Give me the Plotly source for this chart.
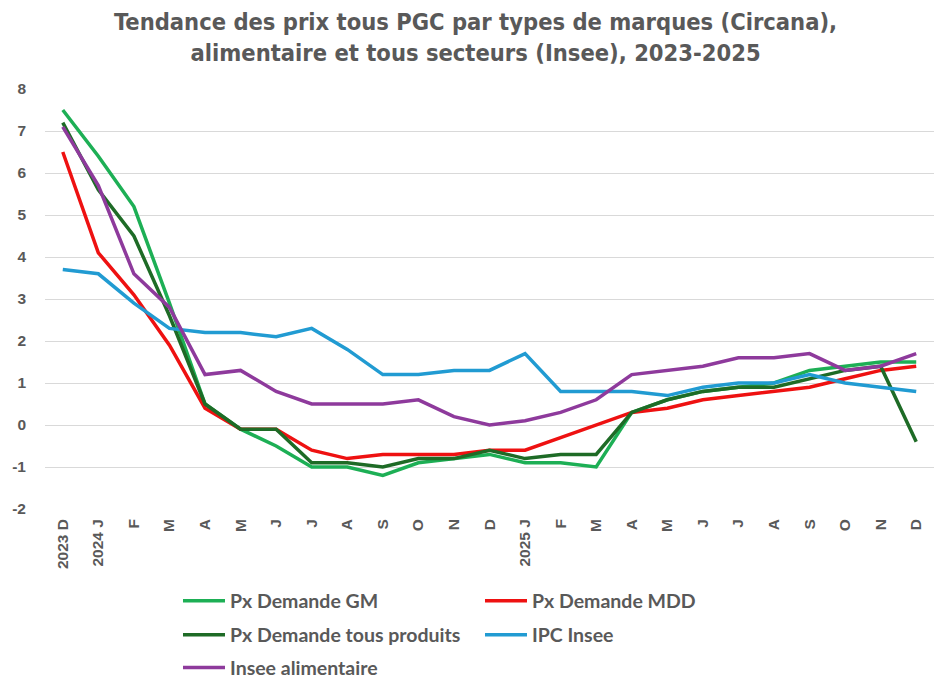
import plotly.graph_objects as go

tick_labels = ["2023 D", "2024 J", "F", "M", "A", "M", "J", "J", "A", "S", "O", "N", "D",
               "2025 J", "F", "M", "A", "M", "J", "J", "A", "S", "O", "N", "D"]
y_ticks = [-2, -1, 0, 1, 2, 3, 4, 5, 6, 7, 8]

px_gm = [7.5, 6.4, 5.2, 2.9, 0.5, -0.1, -0.5, -1.0, -1.0, -1.2, -0.9, -0.8, -0.7,
         -0.9, -0.9, -1.0, 0.3, 0.6, 0.8, 0.9, 1.0, 1.3, 1.4, 1.5, 1.5]
px_mdd = [6.5, 4.1, 3.1, 1.9, 0.4, -0.1, -0.1, -0.6, -0.8, -0.7, -0.7, -0.7, -0.6,
          -0.6, -0.3, 0.0, 0.3, 0.4, 0.6, 0.7, 0.8, 0.9, 1.1, 1.3, 1.4]
px_tous = [7.2, 5.6, 4.5, 2.6, 0.5, -0.1, -0.1, -0.9, -0.9, -1.0, -0.8, -0.8, -0.6,
           -0.8, -0.7, -0.7, 0.3, 0.6, 0.8, 0.9, 0.9, 1.1, 1.3, 1.4, -0.4]
ipc_insee = [3.7, 3.6, 2.9, 2.3, 2.2, 2.2, 2.1, 2.3, 1.8, 1.2, 1.2, 1.3, 1.3,
             1.7, 0.8, 0.8, 0.8, 0.7, 0.9, 1.0, 1.0, 1.2, 1.0, 0.9, 0.8]
insee_alim = [7.1, 5.7, 3.6, 2.8, 1.2, 1.3, 0.8, 0.5, 0.5, 0.5, 0.6, 0.2, 0.0,
              0.1, 0.3, 0.6, 1.2, 1.3, 1.4, 1.6, 1.6, 1.7, 1.3, 1.4, 1.7]

series = [
    ("Px Demande GM", px_gm, "#1DAF55", "legend"),
    ("Px Demande MDD", px_mdd, "#EE1111", "legend"),
    ("Px Demande tous produits", px_tous, "#1E6B26", "legend2"),
    ("IPC Insee", ipc_insee, "#219BD2", "legend2"),
    ("Insee alimentaire", insee_alim, "#8E3A9C", "legend3"),
]

x = list(range(len(tick_labels)))
fig = go.Figure()
for name, vals, col, leg in series:
    fig.add_trace(go.Scatter(x=x, y=vals, mode="lines", name=name, legend=leg,
                             line=dict(color=col, width=3.5)))

gray = "#595959"
legfont = dict(family="Lato, Noto Sans, sans-serif", size=19.5, color=gray, weight="bold")
leg_common = dict(orientation="h", x=0.1496, xanchor="left", yanchor="middle",
                  itemwidth=42, entrywidth=245, entrywidthmode="pixels", font=legfont,
                  bgcolor="rgba(0,0,0,0)", borderwidth=0)

fig.update_layout(
    width=942, height=672,
    paper_bgcolor="white", plot_bgcolor="white",
    margin=dict(l=37, r=16, t=81, b=171, autoexpand=False),
    xaxis=dict(tickmode="array", tickvals=x, ticktext=tick_labels, tickangle=-90,
               range=[-0.5, len(x) - 0.5], showgrid=False, zeroline=False,
               showline=False, ticks="", automargin=False, ticklabelstandoff=6,
               tickfont=dict(family="Liberation Sans, Arial, sans-serif", size=15.5,
                             color=gray, weight="bold")),
    yaxis=dict(range=[-2, 8], tickmode="array", tickvals=y_ticks,
               ticktext=[str(v) for v in y_ticks],
               showgrid=True, gridcolor="#D9D9D9", gridwidth=1,
               zeroline=False, showline=False, ticks="", automargin=False,
               ticklabelstandoff=18,
               tickfont=dict(family="Liberation Sans, Arial, sans-serif", size=15.5,
                             color=gray, weight="bold")),
    legend=dict(leg_common, y=-0.219),
    legend2=dict(leg_common, y=-0.300),
    legend3=dict(leg_common, y=-0.378),
    showlegend=True,
    annotations=[dict(
        text="Tendance des prix tous PGC par types de marques (Circana),<br>alimentaire et tous secteurs (Insee), 2023-2025",
        xref="paper", yref="paper", x=0.4837, y=1.1238, xanchor="center", yanchor="middle",
        showarrow=False, align="center",
        font=dict(family="Liberation Sans Narrow, DejaVu Sans Condensed, sans-serif", size=23.5,
                  color=gray, weight="bold"))],
)

fig.write_html("out.html")
